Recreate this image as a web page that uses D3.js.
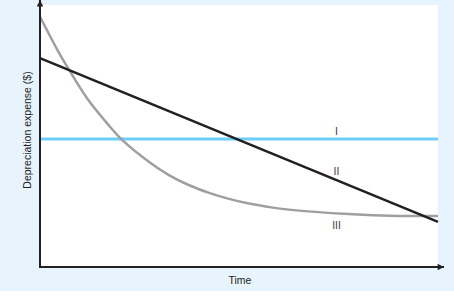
<!DOCTYPE html>
<html>
<head>
<meta charset="utf-8">
<script src="https://cdn.jsdelivr.net/npm/d3@7"></script>
<style>
  html, body { margin: 0; padding: 0; background: #fff; }
</style>
</head>
<body>
<div id="chart"></div>
<script>
// time units along x, expense units along y (0..100)
const timeDomain = [0, 10];
const expenseDomain = [0, 100];

// I - constant expense
const constTime = [0, 10];
const constExpense = [48.9, 48.9];

// II - linear decline
const linearTime = [0, 10];
const linearExpense = [79.7, 17.2];

// III - accelerated (declining) expense
const accelTime = [0, 0.45, 0.7, 1.2, 1.65, 2.05, 2.75, 3.25, 3.75, 4.25, 4.75, 5.25, 5.75, 6.25, 7.75, 9, 10];
const accelExpense = [95.5, 82.5, 76, 64, 55.5, 48.7, 40, 35, 31.2, 28.3, 26, 24.2, 22.9, 21.9, 20.2, 19.5, 19.5];

const seriesLabels = ["I", "II", "III"];
const labelTime = [7.45, 7.45, 7.45];
const labelExpense = [50.4, 35.1, 14.4];

const xTitle = "Time";
const yTitle = "Depreciation expense ($)";

let conf = {
  width: 454,
  height: 296,
  marginTop: 5,
  marginRight: 16,
  marginBottom: 29,
  marginLeft: 40,
  bg: "#e8f4fd",
  ink: "#231f20",
};

const svg = d3.select("#chart").append("svg")
    .attr("width", conf.width)
    .attr("height", conf.height)
    .attr("viewBox", [0, 0, conf.width, conf.height])
    .style("display", "block")
    .style("font-family", "Arial, 'Liberation Sans', sans-serif");

const xScale = d3.scaleLinear(timeDomain, [conf.marginLeft, conf.width - conf.marginRight]);
const yScale = d3.scaleLinear(expenseDomain, [conf.height - conf.marginBottom, conf.marginTop]);

// panel backgrounds
svg.append("rect")
    .attr("width", conf.width).attr("height", 291)
    .attr("fill", conf.bg);
svg.append("rect")
    .attr("x", xScale(0)).attr("y", yScale(100))
    .attr("width", xScale(10) - xScale(0))
    .attr("height", yScale(0) - yScale(100))
    .attr("fill", "#fff");

const line = d3.line()
    .x(d => xScale(d[0]))
    .y(d => yScale(d[1]));

function addPlot(times, values, color, width, curve) {
  svg.append("path")
      .attr("fill", "none")
      .attr("stroke", color)
      .attr("stroke-width", width)
      .attr("d", line.curve(curve)(d3.zip(times, values)));
}

addPlot(constTime, constExpense, "#6dcff6", 3, d3.curveLinear);
addPlot(accelTime, accelExpense, "#9d9fa2", 2.5, d3.curveCatmullRom);
addPlot(linearTime, linearExpense, conf.ink, 2.5, d3.curveLinear);

// axes with arrow heads
const defs = svg.append("defs");
defs.append("marker")
    .attr("id", "arrow")
    .attr("viewBox", "0 0 10 10")
    .attr("refX", 10).attr("refY", 5)
    .attr("markerWidth", 5).attr("markerHeight", 3.2)
    .attr("markerUnits", "strokeWidth")
    .attr("orient", "auto")
  .append("path")
    .attr("d", "M0,0 L10,5 L0,10 Z")
    .attr("fill", conf.ink);

const x0 = xScale(0), y0 = yScale(0);
svg.append("path")
    .attr("d", `M${x0},${y0 + 1}V${yScale(100) - 5}`)
    .attr("stroke", conf.ink).attr("stroke-width", 2).attr("fill", "none")
    .attr("marker-end", "url(#arrow)");
svg.append("path")
    .attr("d", `M${x0 - 1},${y0}H${xScale(10) + 6}`)
    .attr("stroke", conf.ink).attr("stroke-width", 2).attr("fill", "none")
    .attr("marker-end", "url(#arrow)");

// series labels
svg.append("g")
    .selectAll("text")
    .data(seriesLabels)
    .join("text")
    .attr("x", (d, i) => xScale(labelTime[i]))
    .attr("y", (d, i) => yScale(labelExpense[i]))
    .attr("text-anchor", "middle")
    .attr("font-size", 10.5)
    .attr("fill", "#4a3b45")
    .text(d => d);

// axis titles
svg.append("text")
    .attr("x", 240).attr("y", 284)
    .attr("text-anchor", "middle")
    .attr("font-size", 10.5)
    .attr("fill", conf.ink)
    .text(xTitle);
svg.append("text")
    .attr("transform", `translate(31,130) rotate(-90)`)
    .attr("text-anchor", "middle")
    .attr("font-size", 10.5)
    .attr("fill", conf.ink)
    .text(yTitle);
</script>
</body>
</html>
